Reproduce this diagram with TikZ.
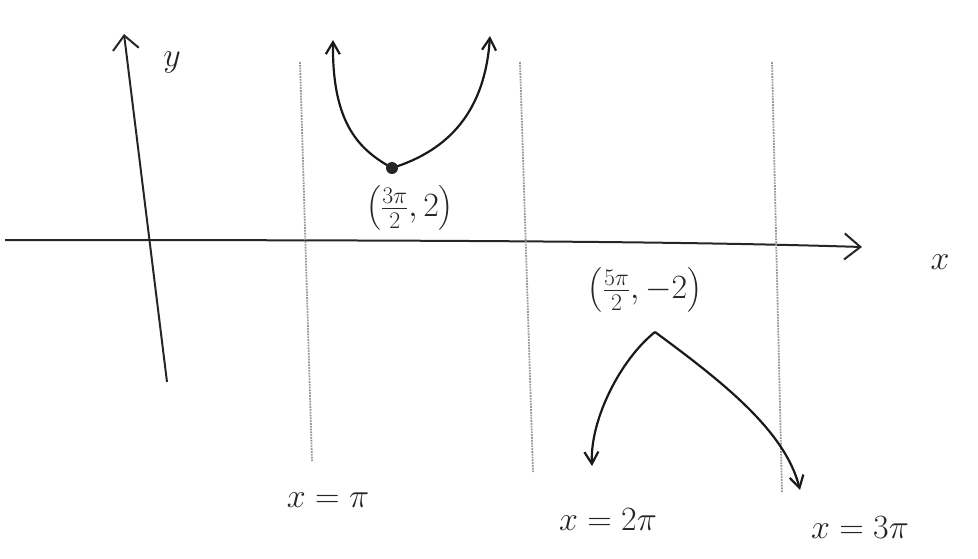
\RequirePackage{fix-cm}
\documentclass[tikz,border=0pt]{standalone}
\usepackage{amsmath}
\usetikzlibrary{arrows.meta}
\begin{document}
\begin{tikzpicture}[x=1pt,y=-1pt,
  axis/.style={line width=2pt,black!85},
  curve/.style={line width=2.2pt,black!90,-{Straight Barb[length=12pt,width=14pt]}},
  asym/.style={line width=1.8pt,black!40,densely dotted},
  lab/.style={font=\fontsize{34}{38}\selectfont,text=black!85,inner sep=1pt},
  biglab/.style={font=\fontsize{34}{38}\selectfont,text=black!85,inner sep=1pt}]
\useasboundingbox (0,0) rectangle (978,558);
% axes
\coordinate (xs) at (5,240);
\coordinate (xe) at (862,247);
\draw[axis,-{Straight Barb[length=16pt,width=26pt]}] (xs) .. controls (500,240) and (700,242) .. (xe);
\coordinate (ys) at (167,382);
\coordinate (ye) at (124,34);
\draw[axis,-{Straight Barb[length=14pt,width=26pt]}] (ys) -- (ye);
\node[biglab] (xl) at (940,262) {$x$};
\node[biglab] (yl) at (172,62) {$y$};
% asymptotes
\coordinate (a1t) at (300,62); \coordinate (a1b) at (312,462);
\coordinate (a2t) at (520,62); \coordinate (a2b) at (533,472);
\coordinate (a3t) at (772,62); \coordinate (a3b) at (782,492);
\draw[asym] (a1t) -- (a1b);
\draw[asym] (a2t) -- (a2b);
\draw[asym] (a3t) -- (a3b);
% upper branch
\coordinate (v1) at (392,168);
\coordinate (u1) at (333,40);
\coordinate (u2) at (490,36);
\draw[curve] (v1) .. controls (360,150) and (332,125) .. (u1);
\draw[curve] (v1) .. controls (450,150) and (485,110) .. (u2);
\fill[black!85] (v1) circle (6);
\node[lab] (p1) at (410,208) {$\left(\frac{3\pi}{2},2\right)$};
% lower branch
\coordinate (v2) at (655,332);
\coordinate (l1) at (592,466);
\coordinate (l2) at (800,490);
\draw[curve] (v2) .. controls (620,360) and (590,420) .. (l1);
\draw[curve] (v2) .. controls (720,380) and (785,430) .. (l2);
\node[lab] (p2) at (645,290) {$\left(\frac{5\pi}{2},-2\right)$};
% asymptote labels
\node[biglab] (q1) at (328,500) {$x=\pi$};
\node[biglab] (q2) at (608,520) {$x=2\pi$};
\node[biglab] (q3) at (860,528) {$x=3\pi$};
\end{tikzpicture}
\end{document}
